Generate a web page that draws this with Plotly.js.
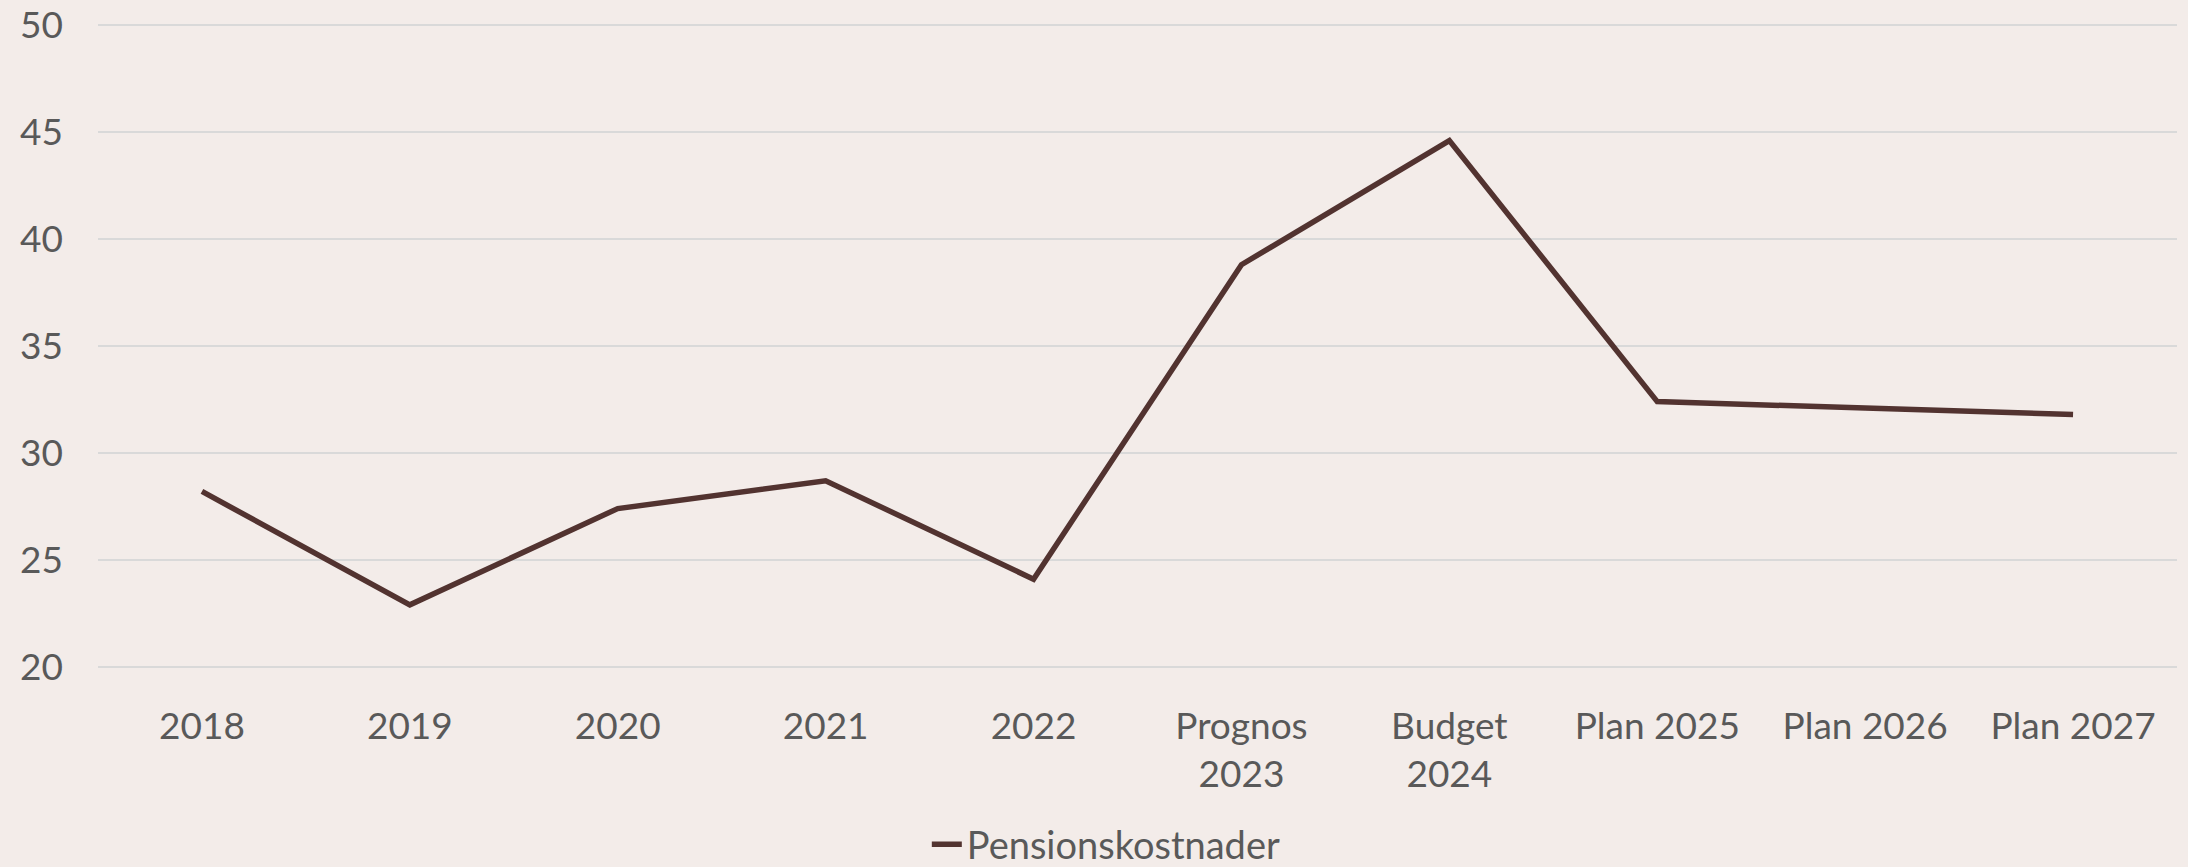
<!DOCTYPE html>
<html>
<head>
<meta charset="utf-8">
<script src="https://cdn.plot.ly/plotly-3.0.1.min.js"></script>
<style>
  html, body { margin: 0; padding: 0; background: #f3ece9; }
  #chart { width: 2188px; height: 867px; }
</style>
</head>
<body>
<div id="chart"></div>
<script>
// Categories and values
const categories = ['2018', '2019', '2020', '2021', '2022', 'Prognos<br>2023', 'Budget<br>2024', 'Plan 2025', 'Plan 2026', 'Plan 2027'];
const pensionCosts = [28.2, 22.9, 27.4, 28.7, 24.1, 38.8, 44.6, 32.4, 32.1, 31.8];
const seriesName = 'Pensionskostnader';
const yTicks = [20, 25, 30, 35, 40, 45, 50];

const textColor = '#595959';
const fontFamily = 'Lato, "Open Sans", sans-serif';

const data = [{
    type: 'scatter',
    mode: 'lines',
    x: categories,
    y: pensionCosts,
    name: seriesName,
    line: { color: '#523330', width: 5.5 }
}];

const layout = {
    width: 2188,
    height: 867,
    paper_bgcolor: '#f3ece9',
    plot_bgcolor: '#f3ece9',
    font: { family: fontFamily, size: 37, color: textColor },
    // range padded a touch so the 20 and 50 gridlines are drawn
    margin: { l: 98, r: 11, t: 23, b: 198, autoexpand: false },
    showlegend: true,
    xaxis: {
        type: 'category',
        range: [-0.5, categories.length - 0.5],
        automargin: false,
        showgrid: false,
        zeroline: false,
        showline: false,
        ticks: '',
        ticklabelstandoff: 32,
        tickfont: { family: fontFamily, size: 37, color: textColor }
    },
    yaxis: {
        range: [19.9, 50.1],
        tickvals: yTicks,
        automargin: false,
        showgrid: true,
        gridcolor: '#d9d9d9',
        gridwidth: 2,
        zeroline: false,
        showline: false,
        ticks: '',
        ticklabelstandoff: 34,
        tickfont: { family: fontFamily, size: 37, color: textColor }
    },
    legend: {
        orientation: 'h',
        xref: 'paper',
        x: 0.485,
        xanchor: 'center',
        yref: 'container',
        y: 0.026,
        yanchor: 'middle',
        bgcolor: 'rgba(0,0,0,0)',
        font: { family: fontFamily, size: 38, color: textColor }
    }
};

Plotly.newPlot('chart', data, layout, { displayModeBar: false, staticPlot: true });
</script>
</body>
</html>
